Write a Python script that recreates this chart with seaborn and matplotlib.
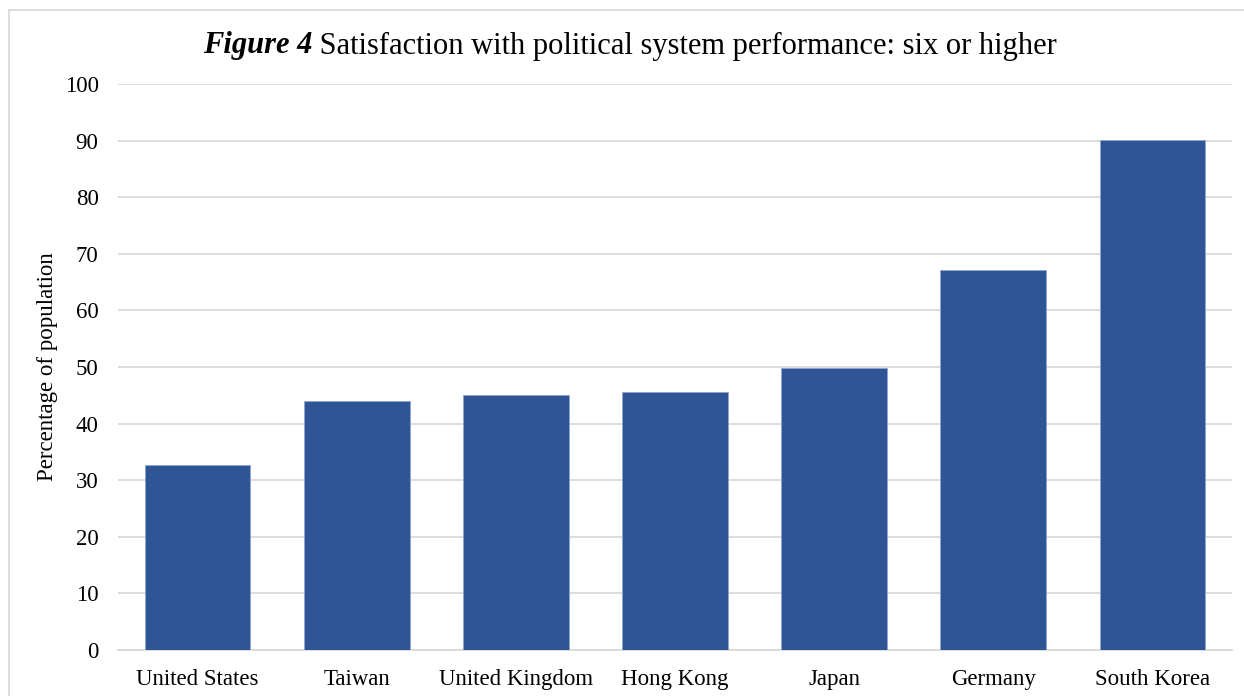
import matplotlib
matplotlib.use("Agg")
import matplotlib.pyplot as plt
from matplotlib.patches import Rectangle
import seaborn as sns
import pandas as pd

countries = ["United States", "Taiwan", "United Kingdom", "Hong Kong",
             "Japan", "Germany", "South Korea"]
satisfied_pct = [32.7, 43.9, 45.1, 45.5, 49.8, 67.2, 90.2]
y_ticks = [0, 10, 20, 30, 40, 50, 60, 70, 80, 90, 100]

df = pd.DataFrame({"country": countries, "pct": satisfied_pct})

sns.set_theme(style="white")
plt.rcParams["font.family"] = ["Liberation Serif", "DejaVu Serif"]
plt.rcParams["text.color"] = "black"

fig = plt.figure(figsize=(12.44, 6.96), dpi=100)
ax = fig.add_axes([118 / 1244, 1 - 649.7 / 696, (1232 - 118) / 1244, (649.7 - 84.3) / 696])

sns.barplot(data=df, x="country", y="pct", ax=ax, color="#2F5597",
            saturation=1, width=0.665, edgecolor="#8FA6CF", linewidth=0.6,
            zorder=3)

ax.set_ylim(0, 100)
ax.set_xlim(-0.5, len(countries) - 0.5)
ax.set_yticks(y_ticks)
ax.yaxis.grid(True, color="#D9D9D9", linewidth=1.3, zorder=0)
ax.set_axisbelow(True)
for side in ["left", "right", "top"]:
    ax.spines[side].set_visible(False)
ax.spines["bottom"].set_color("#D9D9D9")
ax.spines["bottom"].set_linewidth(1.3)
ax.tick_params(axis="y", length=0, pad=14, labelsize=16.5, labelcolor="black")
ax.tick_params(axis="x", length=0, pad=14, labelsize=16.5, labelcolor="black")
ax.set_xlabel("")
ax.set_ylabel("Percentage of population", fontsize=16.5, color="black", labelpad=5)

# Title: bold-italic figure number followed by regular text
fig.canvas.draw()
renderer = fig.canvas.get_renderer()
part1 = "Figure 4"
part2 = " Satisfaction with political system performance: six or higher"
title_y = 1 - 46 / 696
t1 = fig.text(0, title_y, part1, fontsize=22, fontweight="bold",
              fontstyle="italic", va="center", ha="left", color="black")
t2 = fig.text(0, title_y, part2, fontsize=22, va="center", ha="left",
              color="black")
w1 = t1.get_window_extent(renderer).width
w2 = t2.get_window_extent(renderer).width
center_px = 630
x0 = center_px - (w1 + w2) / 2
t1.set_x(x0 / 1244)
t2.set_x((x0 + w1) / 1244)

# Chart frame
fig.add_artist(Rectangle((9 / 1244, -0.2), 1.2, 1 - 10 / 696 + 0.2,
                         transform=fig.transFigure, fill=False,
                         edgecolor="#D9D9D9", linewidth=1.3))

fig.savefig("out.png", dpi=100, facecolor="white")
